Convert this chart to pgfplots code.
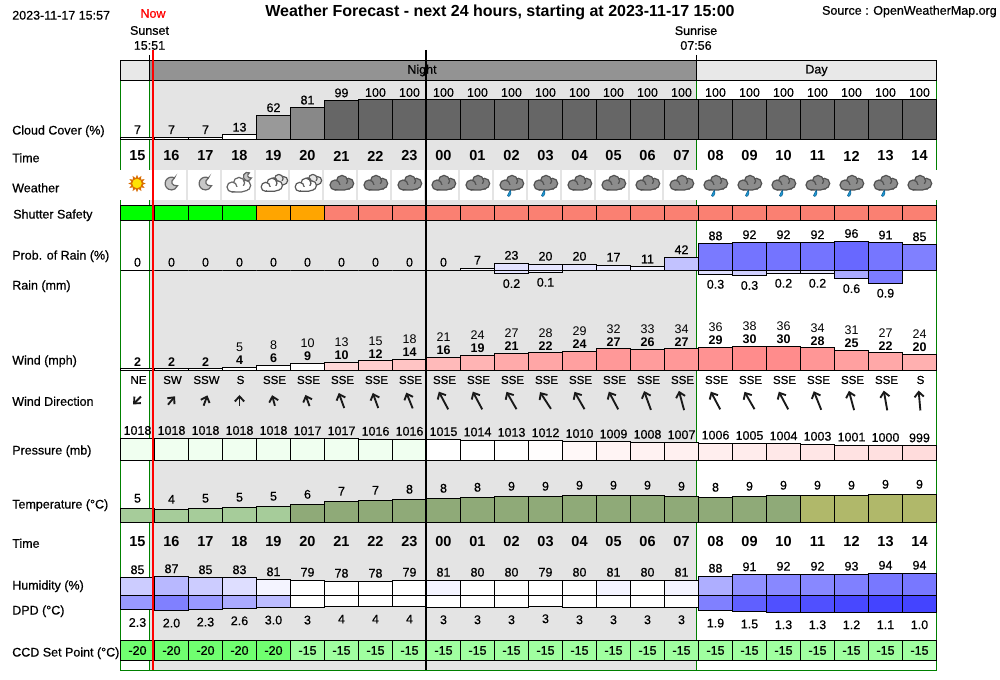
\documentclass[border=0pt]{standalone}
\usepackage{fontspec}
\usepackage{xcolor}
\usepackage{pgfplots}
\pgfplotsset{compat=1.18}
\usetikzlibrary{arrows.meta}
\setmainfont{Liberation Sans}
\newfontfamily\mf[UprightFeatures={FakeBold=0.6}]{Liberation Sans}

% 1 reference pixel = 0.75pt, page is 1000x680 px
\newcommand{\fnt}[1]{\fontsize{\fpeval{#1*0.75}pt}{\fpeval{#1*0.75+0.5}pt}\selectfont}
\definecolor{framegreen}{HTML}{008000}
\definecolor{nightbg}{HTML}{E4E4E4}
\definecolor{bandgray}{HTML}{939393}
\definecolor{bandlight}{HTML}{E8E8E8}
\definecolor{dropfill}{HTML}{1E9BD7}
\definecolor{dropline}{HTML}{0F5F8F}

\pgfplotsset{
  pix/.style={hide axis, scale only axis, clip=false, anchor=south west, at={(0,0)},
    width=750pt, height=510pt, xmin=0, xmax=1000, ymin=0, ymax=680, y dir=reverse},
  % #1 = pixel y of lower edge, #2 = pixel height
  panel/.style 2 args={hide axis, scale only axis, clip=false, anchor=south west,
    at={(90.375pt,{(680-#1)*0.75pt})}, width=612pt, height={(#2)*0.75pt}, xmin=0, xmax=24},
  lab/.style={every node near coord/.append style={anchor=center, inner sep=0pt, text=black, yshift=#1*0.75pt, font=\mf\fnt{12.5}}},
  row/.style={draw=none, mark=none, nodes near coords, point meta=explicit symbolic}
}
\newcommand{\gcol}[1]{\begingroup\globalcolorstrue\definecolor{c#1}{HTML}{#1}\endgroup}
% one bar: column, value, colour, label
\newcommand{\B}[4]{\gcol{#3}%
  \addplot[ybar, bar width=1, bar shift=0pt, draw=black, line width=0.75pt, fill=c#3, mark=none,
    nodes near coords={#4}] coordinates {(#1.5,#2)};}
% wind bar: column, mean, colour, gust
\newcommand{\W}[4]{\gcol{#3}%
  \addplot[ybar, bar width=1, bar shift=0pt, draw=black, line width=0.75pt, fill=c#3, mark=none,
    nodes near coords={#4\\\textbf{#2}}] coordinates {(#1.5,#2)};}
% label on the page
\newcommand{\LB}[3]{\node[anchor=west, inner sep=0pt, yshift=-0.6pt, font=\mf\fnt{12.5}] at (axis cs:#1,#2) {#3};}
\newcommand{\CT}[4]{\node[anchor=center, inner sep=0pt, font=\mf\fnt{#1}] at (axis cs:#2,#3) {#4};}
% wind arrow: centre x, pointing angle (clockwise from up), length
\newcommand{\A}[3]{\begin{scope}[shift={(axis cs:#1,400.5)}, rotate=-#2]
  \draw[line width=1.4pt, color=black!90, -{Straight Barb[length=3.8pt, width=7pt]}] (0,-#3*0.375pt) -- (0,#3*0.375pt);
  \end{scope}}
% weather icons, coordinates in pt with y up, scaled to px
\newcommand{\cloud}[2]{%
  \fill[#1, draw=#2, line width=0.9pt] (7pt,0pt) circle (5.2pt);
  \fill[#1, draw=#2, line width=0.9pt] (0.5pt,2.5pt) circle (5.6pt);
  \fill[#1] (-7pt,-6.5pt) rectangle (8pt,-1pt);
  \fill[#1, draw=#2, line width=0.9pt] (-6.5pt,-1.5pt) circle (5pt);
  \fill[#1] (-5.5pt,-6pt) rectangle (3pt,-2pt);
  \draw[#2, line width=0.9pt] (-6.5pt,-6.5pt) -- (3pt,-6.5pt) -- (9pt,-4.8pt);}
\newcommand{\icon}[2]{\begin{scope}[shift={(axis cs:#1,183.5)}, scale=0.75]#2\end{scope}}
\newcommand{\dark}[1]{\icon{#1}{\cloud{black!45}{black!68}}}
\newcommand{\wet}[1]{\icon{#1}{\cloud{black!45}{black!68}
  \fill[dropfill, draw=dropline, line width=0.4pt] (-1pt,-6.5pt) .. controls (-1pt,-8pt) and (-4pt,-9.5pt) .. (-4pt,-12pt) .. controls (-3.5pt,-14pt) and (0.5pt,-13pt) .. (-1pt,-6.5pt);}}
\newcommand{\crescent}{\fill[black!22, draw=black!60, line width=0.9pt] (3pt,5.6pt) arc (62:340:6.4pt) .. controls (0.5pt,-3pt) and (-2pt,2pt) .. cycle;}
\newcommand{\moon}[1]{\icon{#1}{\crescent}}
\newcommand{\ray}[1]{\fill[orange!85!black] (#1:8.7pt) -- (#1+20:5pt) -- (#1-20:5pt) -- cycle;}
\newcommand{\sun}[1]{\icon{#1}{
  \ray{0}\ray{30}\ray{60}\ray{90}\ray{120}\ray{150}\ray{180}\ray{210}\ray{240}\ray{270}\ray{300}\ray{330}
  \fill[yellow!85!orange, draw=orange!85!black, line width=0.6pt] (0pt,0pt) circle (5.3pt);}}
\newcommand{\cmoon}[1]{\icon{#1}{
  \begin{scope}[shift={(8pt,7pt)}, scale=0.65]\crescent\end{scope}
  \begin{scope}[shift={(-1pt,-2pt)}]\cloud{white}{black!60}\end{scope}}}
\newcommand{\pcloud}[1]{\icon{#1}{
  \begin{scope}[shift={(5pt,3pt)}, scale=0.75]\cloud{black!10}{black!65}\end{scope}
  \begin{scope}[shift={(-2pt,-2pt)}, scale=0.9]\cloud{white}{black!65}\end{scope}}}

\begin{document}
\begin{tikzpicture}
\useasboundingbox (0,0) rectangle (750pt,510pt);

% background, frame, header band, weather cells
\begin{axis}[pix]
  \addplot[fill=nightbg, draw=none] coordinates {(149.5,80)(696.5,80)(696.5,670)(149.5,670)} --cycle;
  \addplot[framegreen, line width=0.75pt] coordinates {(120.5,80)(120.5,670)(936.5,670)(936.5,80)};
  \addplot[framegreen, line width=0.75pt] coordinates {(149.5,80)(149.5,670)};
  \addplot[framegreen, line width=0.75pt] coordinates {(696.5,80)(696.5,670)};
  \addplot[fill=bandlight, draw=black, line width=0.75pt] coordinates {(120.5,60.3)(149.5,60.3)(149.5,80.3)(120.5,80.3)} --cycle;
  \addplot[fill=bandgray, draw=black, line width=0.75pt] coordinates {(149.5,60.3)(696.5,60.3)(696.5,80.3)(149.5,80.3)} --cycle;
  \addplot[fill=bandlight, draw=black, line width=0.75pt] coordinates {(696.5,60.3)(936.5,60.3)(936.5,80.3)(696.5,80.3)} --cycle;
  \addplot[black, line width=0.75pt] coordinates {(149.5,55)(149.5,60)};
  \addplot[black, line width=0.75pt] coordinates {(696.5,55)(696.5,60)};
  \addplot[fill=white, draw=none] coordinates {(119,170)(152.5,170)(152.5,200)(119,200)} --cycle;
  \addplot[fill=white, draw=none] coordinates {(696,170)(938,170)(938,200)(696,200)} --cycle;
  \addplot[fill=white, draw=none] coordinates {(154.3,170)(186.3,170)(186.3,200)(154.3,200)} --cycle;
  \addplot[fill=white, draw=none] coordinates {(188.3,170)(220.3,170)(220.3,200)(188.3,200)} --cycle;
  \addplot[fill=white, draw=none] coordinates {(222.3,170)(254.3,170)(254.3,200)(222.3,200)} --cycle;
  \addplot[fill=white, draw=none] coordinates {(256.3,170)(288.3,170)(288.3,200)(256.3,200)} --cycle;
  \addplot[fill=white, draw=none] coordinates {(290.3,170)(322.3,170)(322.3,200)(290.3,200)} --cycle;
  \addplot[fill=white, draw=none] coordinates {(324.3,170)(356.3,170)(356.3,200)(324.3,200)} --cycle;
  \addplot[fill=white, draw=none] coordinates {(358.3,170)(390.3,170)(390.3,200)(358.3,200)} --cycle;
  \addplot[fill=white, draw=none] coordinates {(392.3,170)(424.3,170)(424.3,200)(392.3,200)} --cycle;
  \addplot[fill=white, draw=none] coordinates {(426.3,170)(458.3,170)(458.3,200)(426.3,200)} --cycle;
  \addplot[fill=white, draw=none] coordinates {(460.3,170)(492.3,170)(492.3,200)(460.3,200)} --cycle;
  \addplot[fill=white, draw=none] coordinates {(494.3,170)(526.3,170)(526.3,200)(494.3,200)} --cycle;
  \addplot[fill=white, draw=none] coordinates {(528.3,170)(560.3,170)(560.3,200)(528.3,200)} --cycle;
  \addplot[fill=white, draw=none] coordinates {(562.3,170)(594.3,170)(594.3,200)(562.3,200)} --cycle;
  \addplot[fill=white, draw=none] coordinates {(596.3,170)(628.3,170)(628.3,200)(596.3,200)} --cycle;
  \addplot[fill=white, draw=none] coordinates {(630.3,170)(662.3,170)(662.3,200)(630.3,200)} --cycle;
  \addplot[fill=white, draw=none] coordinates {(664.3,170)(696.3,170)(696.3,200)(664.3,200)} --cycle;
\end{axis}

% cloud cover
\begin{axis}[panel={140}{40}, ymin=0, ymax=100, lab=7.5]
  \B{0}{7}{FFFFFF}{7}\B{1}{7}{FFFFFF}{7}\B{2}{7}{FFFFFF}{7}\B{3}{13}{FFFFFF}{13}
  \B{4}{62}{999999}{62}\B{5}{81}{888888}{81}\B{6}{99}{666666}{99}\B{7}{100}{666666}{100}
  \B{8}{100}{666666}{100}\B{9}{100}{666666}{100}\B{10}{100}{666666}{100}\B{11}{100}{666666}{100}
  \B{12}{100}{666666}{100}\B{13}{100}{666666}{100}\B{14}{100}{666666}{100}\B{15}{100}{666666}{100}
  \B{16}{100}{666666}{100}\B{17}{100}{666666}{100}\B{18}{100}{666666}{100}\B{19}{100}{666666}{100}
  \B{20}{100}{666666}{100}\B{21}{100}{666666}{100}\B{22}{100}{666666}{100}\B{23}{100}{666666}{100}
\end{axis}

% shutter safety
\begin{axis}[panel={220.3}{15}, ymin=0, ymax=1, lab=0]
  \B{0}{1}{00FF00}{}\B{1}{1}{00FF00}{}\B{2}{1}{00FF00}{}\B{3}{1}{00FF00}{}
  \B{4}{1}{FFA500}{}\B{5}{1}{FFA500}{}\B{6}{1}{FA8072}{}\B{7}{1}{FA8072}{}
  \B{8}{1}{FA8072}{}\B{9}{1}{FA8072}{}\B{10}{1}{FA8072}{}\B{11}{1}{FA8072}{}
  \B{12}{1}{FA8072}{}\B{13}{1}{FA8072}{}\B{14}{1}{FA8072}{}\B{15}{1}{FA8072}{}
  \B{16}{1}{FA8072}{}\B{17}{1}{FA8072}{}\B{18}{1}{FA8072}{}\B{19}{1}{FA8072}{}
  \B{20}{1}{FA8072}{}\B{21}{1}{FA8072}{}\B{22}{1}{FA8072}{}\B{23}{1}{FA8072}{}
\end{axis}

% probability of rain
\begin{axis}[panel={270.3}{30}, ymin=0, ymax=100, lab=8]
  \B{0}{0}{FFFFFF}{0}\B{1}{0}{FFFFFF}{0}\B{2}{0}{FFFFFF}{0}\B{3}{0}{FFFFFF}{0}
  \B{4}{0}{FFFFFF}{0}\B{5}{0}{FFFFFF}{0}\B{6}{0}{FFFFFF}{0}\B{7}{0}{FFFFFF}{0}
  \B{8}{0}{FFFFFF}{0}\B{9}{0}{FFFFFF}{0}\B{10}{7}{F8F8FF}{7}\B{11}{23}{E2E2FF}{23}
  \B{12}{20}{E6E6FF}{20}\B{13}{20}{E6E6FF}{20}\B{14}{17}{EBEBFF}{17}\B{15}{11}{F1F1FF}{11}
  \B{16}{42}{C2C2FF}{42}\B{17}{88}{7A7AFF}{88}\B{18}{92}{7474FF}{92}\B{19}{92}{7474FF}{92}
  \B{20}{92}{7474FF}{92}\B{21}{96}{6868FF}{96}\B{22}{91}{7676FF}{91}\B{23}{85}{8080FF}{85}
\end{axis}

% rain, hanging from the same baseline
\begin{axis}[panel={284.7}{14.4}, ymin=0, ymax=1, y dir=reverse, lab=-10]
  \B{11}{0.23}{E2E2FF}{0.2}\B{12}{0.14}{EEEEFF}{0.1}\B{17}{0.28}{E0E0FF}{0.3}\B{18}{0.36}{D0D0FF}{0.3}
  \B{19}{0.21}{E4E4FF}{0.2}\B{20}{0.21}{E4E4FF}{0.2}\B{21}{0.58}{AAAAFF}{0.6}\B{22}{0.90}{7C7CFF}{0.9}
\end{axis}

% wind, mean bars with gust above
\begin{axis}[panel={370.3}{24}, ymin=0, ymax=30,
    every node near coord/.append style={anchor=south, inner sep=0pt, text=black, align=center, yshift=1.5pt, font=\fnt{12.5}}]
  \B{0}{2}{FFFFFF}{\textbf{2}}\B{1}{2}{FFFFFF}{\textbf{2}}\B{2}{2}{FFFFFF}{\textbf{2}}
  \W{3}{4}{FFFFFF}{5}\W{4}{6}{FFFFFF}{8}\W{5}{9}{FFFFFF}{10}\W{6}{10}{FFD8D8}{13}
  \W{7}{12}{FFCECE}{15}\W{8}{14}{FFC4C4}{18}\W{9}{16}{FFBABA}{21}\W{10}{19}{FFB4B4}{24}
  \W{11}{21}{FFAAAA}{27}\W{12}{22}{FFA6A6}{28}\W{13}{24}{FFA0A0}{29}\W{14}{27}{FF9898}{32}
  \W{15}{26}{FF9C9C}{33}\W{16}{27}{FF9898}{34}\W{17}{29}{FF9292}{36}\W{18}{30}{FF8C8C}{38}
  \W{19}{30}{FF8C8C}{36}\W{20}{28}{FF9696}{34}\W{21}{25}{FFA0A0}{31}\W{22}{22}{FFA8A8}{27}
  \W{23}{20}{FFB0B0}{24}
\end{axis}

% pressure, bars stand on 962 mb
\begin{axis}[panel={460.3}{21.84}, ymin=962, ymax=1018, lab=8]
  \B{0}{1018}{F0FFF0}{1018}\B{1}{1018}{F0FFF0}{1018}\B{2}{1018}{F0FFF0}{1018}\B{3}{1018}{F0FFF0}{1018}
  \B{4}{1018}{F0FFF0}{1018}\B{5}{1017}{F0FFF0}{1017}\B{6}{1017}{F0FFF0}{1017}\B{7}{1016}{F0FFF0}{1016}
  \B{8}{1016}{F0FFF0}{1016}\B{9}{1015}{FFFFFF}{1015}\B{10}{1014}{FFFFFF}{1014}\B{11}{1013}{FFFFFF}{1013}
  \B{12}{1012}{FFFDFD}{1012}\B{13}{1010}{FFF8F8}{1010}\B{14}{1009}{FFF4F4}{1009}\B{15}{1008}{FFF2F2}{1008}
  \B{16}{1007}{FFF0F0}{1007}\B{17}{1006}{FFEEEE}{1006}\B{18}{1005}{FFECEC}{1005}\B{19}{1004}{FFE8E8}{1004}
  \B{20}{1003}{FFE6E6}{1003}\B{21}{1001}{FFE2E2}{1001}\B{22}{1000}{FFE0E0}{1000}\B{23}{999}{FFDCDC}{999}
\end{axis}

% temperature
\begin{axis}[panel={522.3}{30}, ymin=0, ymax=10, lab=10]
  \B{0}{4.67}{A6CC9A}{5}\B{1}{4.33}{A6CC9A}{4}\B{2}{4.67}{A6CC9A}{5}\B{3}{5}{A6CC9A}{5}
  \B{4}{5.33}{A6CC9A}{5}\B{5}{6}{8FAA78}{6}\B{6}{7}{8FAA78}{7}\B{7}{7.33}{8FAA78}{7}
  \B{8}{7.67}{8FAA78}{8}\B{9}{8}{8FAA78}{8}\B{10}{8.33}{8FAA78}{8}\B{11}{8.67}{8FAA78}{9}
  \B{12}{8.67}{8FAA78}{9}\B{13}{9}{8FAA78}{9}\B{14}{9}{8FAA78}{9}\B{15}{9}{8FAA78}{9}
  \B{16}{8.67}{8FAA78}{9}\B{17}{8.33}{8FAA78}{8}\B{18}{8.67}{8FAA78}{9}\B{19}{9}{8FAA78}{9}
  \B{20}{9}{B0B86A}{9}\B{21}{9}{B0B86A}{9}\B{22}{9.33}{B0B86A}{9}\B{23}{9.33}{B0B86A}{9}
\end{axis}

% humidity, bars stand on 50 %
\begin{axis}[panel={595.3}{25}, ymin=50, ymax=100, lab=8]
  \B{0}{85}{CCCCFF}{85}\B{1}{87}{B8B8FF}{87}\B{2}{85}{CCCCFF}{85}\B{3}{85}{DEDEFF}{83}
  \B{4}{81}{F4F4FF}{81}\B{5}{80}{FFFFFF}{79}\B{6}{78}{FFFFFF}{78}\B{7}{78}{FFFFFF}{78}
  \B{8}{80}{FFFFFF}{79}\B{9}{80}{F4F4FF}{81}\B{10}{80}{FFFFFF}{80}\B{11}{80}{FFFFFF}{80}
  \B{12}{80}{FFFFFF}{79}\B{13}{80}{FFFFFF}{80}\B{14}{80}{F4F4FF}{81}\B{15}{80}{FFFFFF}{80}
  \B{16}{80}{F4F4FF}{81}\B{17}{88}{AEAEFF}{88}\B{18}{91}{9090FF}{91}\B{19}{92}{8888FF}{92}
  \B{20}{92}{8888FF}{92}\B{21}{92}{8080FF}{93}\B{22}{94}{7878FF}{94}\B{23}{94}{7878FF}{94}
\end{axis}

% dew point depression, bar length in px hanging from the humidity baseline
\begin{axis}[panel={620.3}{25}, ymin=0, ymax=25, y dir=reverse, lab=-12.5]
  \B{0}{14.7}{9999FF}{2.3}\B{1}{15.3}{8080FF}{2.0}\B{2}{14.3}{9999FF}{2.3}\B{3}{13}{AAAAFF}{2.6}
  \B{4}{12.3}{BCBCFF}{3.0}\B{5}{12.3}{FFFFFF}{3}\B{6}{11.3}{FFFFFF}{4}\B{7}{11.3}{FFFFFF}{4}
  \B{8}{11.3}{FFFFFF}{4}\B{9}{12}{FFFFFF}{3}\B{10}{12}{FFFFFF}{3}\B{11}{12}{FFFFFF}{3}
  \B{12}{11}{FFFFFF}{3}\B{13}{12}{FFFFFF}{3}\B{14}{12}{FFFFFF}{3}\B{15}{12}{FFFFFF}{3}
  \B{16}{12}{FFFFFF}{3}\B{17}{15.3}{8080FF}{1.9}\B{18}{16.3}{6060FF}{1.5}\B{19}{17}{5050FF}{1.3}
  \B{20}{17}{5050FF}{1.3}\B{21}{17}{4848FF}{1.2}\B{22}{17}{4444FF}{1.1}\B{23}{17}{4444FF}{1.0}
\end{axis}

% CCD set point
\begin{axis}[panel={660.3}{19.6}, ymin=0, ymax=1, lab=-9.8]
  \B{0}{1}{70FF70}{-20}\B{1}{1}{70FF70}{-20}\B{2}{1}{70FF70}{-20}\B{3}{1}{70FF70}{-20}
  \B{4}{1}{70FF70}{-20}\B{5}{1}{A0FFA0}{-15}\B{6}{1}{A0FFA0}{-15}\B{7}{1}{A0FFA0}{-15}
  \B{8}{1}{A0FFA0}{-15}\B{9}{1}{A0FFA0}{-15}\B{10}{1}{A0FFA0}{-15}\B{11}{1}{A0FFA0}{-15}
  \B{12}{1}{A0FFA0}{-15}\B{13}{1}{A0FFA0}{-15}\B{14}{1}{A0FFA0}{-15}\B{15}{1}{A0FFA0}{-15}
  \B{16}{1}{A0FFA0}{-15}\B{17}{1}{A0FFA0}{-15}\B{18}{1}{A0FFA0}{-15}\B{19}{1}{A0FFA0}{-15}
  \B{20}{1}{A0FFA0}{-15}\B{21}{1}{A0FFA0}{-15}\B{22}{1}{A0FFA0}{-15}\B{23}{1}{A0FFA0}{-15}
\end{axis}

% rows of text: hours twice, wind direction
\begin{axis}[panel={157}{2}, ymin=-1, ymax=1, every node near coord/.append style={anchor=center, inner sep=0pt, yshift=0pt, font=\fnt{14.5}\bfseries}]
  \addplot[row] coordinates {(0.5,0)[15](1.5,0)[16](2.5,0)[17](3.5,0)[18](4.5,0)[19](5.5,0)[20](6.5,0)[21](7.5,0)[22](8.5,0)[23](9.5,0)[00](10.5,0)[01](11.5,0)[02](12.5,0)[03](13.5,0)[04](14.5,0)[05](15.5,0)[06](16.5,0)[07](17.5,0)[08](18.5,0)[09](19.5,0)[10](20.5,0)[11](21.5,0)[12](22.5,0)[13](23.5,0)[14]};
\end{axis}
\begin{axis}[panel={542.3}{2}, ymin=-1, ymax=1, every node near coord/.append style={anchor=center, inner sep=0pt, yshift=0pt, font=\fnt{14.5}\bfseries}]
  \addplot[row] coordinates {(0.5,0)[15](1.5,0)[16](2.5,0)[17](3.5,0)[18](4.5,0)[19](5.5,0)[20](6.5,0)[21](7.5,0)[22](8.5,0)[23](9.5,0)[00](10.5,0)[01](11.5,0)[02](12.5,0)[03](13.5,0)[04](14.5,0)[05](15.5,0)[06](16.5,0)[07](17.5,0)[08](18.5,0)[09](19.5,0)[10](20.5,0)[11](21.5,0)[12](22.5,0)[13](23.5,0)[14]};
\end{axis}
\begin{axis}[panel={381}{2}, ymin=-1, ymax=1, every node near coord/.append style={anchor=center, inner sep=0pt, xshift=0.75pt, font=\mf\fnt{11.5}}]
  \addplot[row] coordinates {(0.5,0)[NE](1.5,0)[SW](2.5,0)[SSW](3.5,0)[S](4.5,0)[SSE](5.5,0)[SSE](6.5,0)[SSE](7.5,0)[SSE](8.5,0)[SSE](9.5,0)[SSE](10.5,0)[SSE](11.5,0)[SSE](12.5,0)[SSE](13.5,0)[SSE](14.5,0)[SSE](15.5,0)[SSE](16.5,0)[SSE](17.5,0)[SSE](18.5,0)[SSE](19.5,0)[SSE](20.5,0)[SSE](21.5,0)[SSE](22.5,0)[SSE](23.5,0)[S]};
\end{axis}

% overlay: marker lines, labels, icons, arrows
\begin{axis}[pix]
  \addplot[red, line width=1.6pt] coordinates {(153,50)(153,670)};
  \addplot[black, line width=1.5pt] coordinates {(426,50)(426,670)};

  \node[anchor=center, inner sep=0pt, font=\fnt{16}\bfseries] at (axis cs:500,12) {Weather Forecast - next 24 hours, starting at 2023-11-17 15:00};
  \LB{12}{14.5}{2023-11-17 15:57}
  \node[anchor=east, inner sep=0pt, font=\mf\fnt{12.5}] at (axis cs:997,11.5) {Source : OpenWeatherMap.org};
  \node[anchor=center, inner sep=0pt, font=\mf\fnt{12.5}, text=red] at (axis cs:153,13.5) {Now};
  \CT{12.5}{149.5}{30.5}{Sunset}
  \CT{12.5}{149.5}{45.5}{15:51}
  \CT{12.5}{696}{30.5}{Sunrise}
  \CT{12.5}{696}{45.5}{07:56}
  \CT{12.5}{422}{70.5}{Night}
  \CT{12.5}{816.5}{70.5}{Day}

  \LB{12}{130.5}{Cloud Cover (\%)}
  \LB{12}{157}{Time}
  \LB{12}{187}{Weather}
  \LB{13}{214.5}{Shutter Safety}
  \LB{12}{255.5}{Prob. of Rain (\%)}
  \LB{12}{285.5}{Rain (mm)}
  \LB{12}{360.5}{Wind (mph)}
  \LB{12}{400.5}{Wind Direction}
  \LB{12}{450.5}{Pressure (mb)}
  \LB{12}{504.5}{Temperature (°C)}
  \LB{12}{542.5}{Time}
  \LB{12}{585.5}{Humidity (\%)}
  \LB{12}{610.5}{DPD (°C)}
  \LB{12}{652.5}{CCD Set Point (°C)}

  \sun{137} \moon{171.5} \moon{205.5} \cmoon{239.5} \pcloud{273.5} \pcloud{307.5}
  \dark{341.5} \dark{375.5} \dark{409.5} \dark{443.5} \dark{477.5} \wet{511.5} \wet{545.5}
  \dark{579.5} \dark{613.5} \dark{647.5} \dark{681.5} \wet{715.5} \wet{749.5} \wet{783.5}
  \wet{817.5} \wet{851.5} \wet{885.5} \dark{919.5}

  \A{137}{225}{11} \A{171.5}{40}{11} \A{205.5}{20}{11} \A{239.5}{0}{11} \A{273.5}{-15}{11}
  \A{307.5}{-20}{12} \A{341.5}{-20}{16} \A{375.5}{-20}{16} \A{409.5}{-22}{17} \A{443.5}{-28}{20}
  \A{477.5}{-28}{20} \A{511.5}{-30}{20} \A{545.5}{-33}{20} \A{579.5}{-30}{20} \A{613.5}{-28}{20}
  \A{647.5}{-20}{20} \A{681.5}{-15}{20} \A{715.5}{-28}{20} \A{749.5}{-30}{20} \A{783.5}{-28}{20}
  \A{817.5}{-22}{20} \A{851.5}{-15}{20} \A{885.5}{-10}{20} \A{919.5}{-5}{20}
\end{axis}
\end{tikzpicture}
\end{document}
